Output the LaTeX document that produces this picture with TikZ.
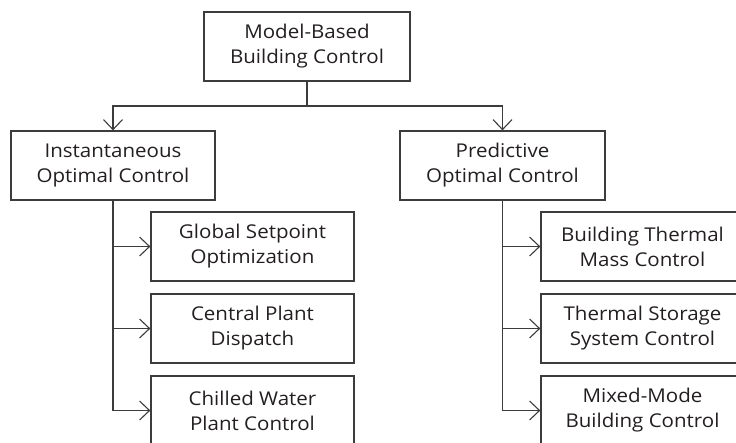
\documentclass[tikz,border=0pt]{standalone}
\usepackage{fontspec}
\setmainfont{Open Sans}[FakeStretch=1.08]
\usetikzlibrary{arrows.meta}

\definecolor{linegray}{HTML}{3C3C3C}
\definecolor{textgray}{HTML}{231F20}

\tikzset{
  box/.style={draw=linegray, line width=1.3pt, text=textgray, align=center,
    minimum width=204pt, minimum height=69pt, inner sep=0pt,
    font=\fontsize{19}{25}\selectfont},
  link/.style={draw=linegray, line width=1.3pt,
    -{Straight Barb[length=10pt,width=19pt,line width=1.1pt]}}
}

\begin{document}
\begin{tikzpicture}[x=1pt,y=-1pt]
\useasboundingbox (0,0) rectangle (736,442);
\clip (0,0) rectangle (736,442);
% top level
\node[box, minimum width=206pt] (root) at (307,46.5) {Model-Based\\Building Control};
\coordinate (bus) at (307,106);
% second level
\node[box] (inst) at (113,165.5) {Instantaneous\\Optimal Control};
\node[box, minimum width=205pt] (pred) at (502.5,165.5) {Predictive\\Optimal Control};
% instantaneous branch
\node[box, minimum width=203pt] (gsp) at (252.5,246.5) {Global Setpoint\\Optimization};
\node[box, minimum width=203pt] (cpd) at (252.5,328.5) {Central Plant\\Dispatch};
\node[box, minimum width=203pt] (cwp) at (252.5,410.5) {Chilled Water\\Plant Control};
% predictive branch
\node[box, minimum width=203pt] (btm) at (642.5,246.5) {Building Thermal\\Mass Control};
\node[box, minimum width=203pt] (tss) at (642.5,328.5) {Thermal Storage\\System Control};
\node[box, minimum width=203pt] (mmb) at (642.5,410.5) {Mixed-Mode\\Building Control};
% connectors
\draw[link] (root.south) -- (bus) -| (inst.north);
\draw[link] (bus) -| (pred.north);
\draw[link] (inst.south) |- (gsp.west);
\draw[link] (inst.south) |- (cpd.west);
\draw[link] (inst.south) |- (cwp.west);
\draw[link] (pred.south) |- (btm.west);
\draw[link] (pred.south) |- (tss.west);
\draw[link] (pred.south) |- (mmb.west);
\end{tikzpicture}
\end{document}
